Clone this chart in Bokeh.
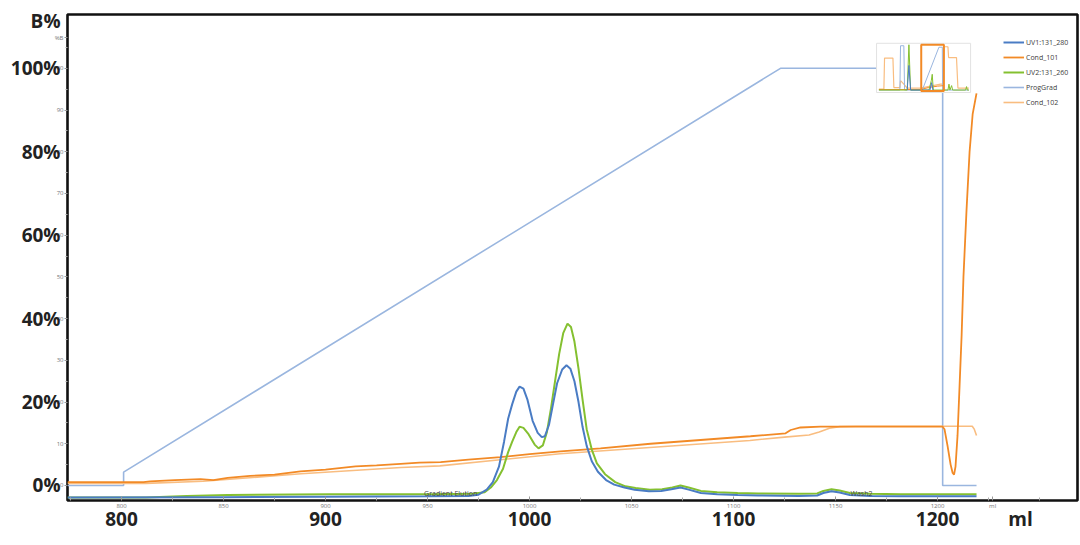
from bokeh.plotting import figure
from bokeh.models import Range1d, Legend, LegendItem, FixedTicker, LinearAxis
from bokeh.embed import file_html
from bokeh.resources import INLINE
from bokeh.core.properties import value

# ---------------- data ----------------
uv1_ml = [773.5, 850, 900, 950, 970, 975, 979, 982, 985, 987.5, 989.5, 991.5, 993.5, 995.1, 997, 999,
          1001.5, 1004, 1006, 1007.5, 1009.5, 1011.5, 1013.5, 1016, 1018.1, 1020, 1022, 1024, 1026, 1028,
          1030.5, 1033.5, 1037.5, 1041.5, 1046.5, 1051.5, 1058.5, 1064.5, 1069.5, 1074, 1078, 1084, 1092,
          1102, 1112, 1132, 1141, 1144, 1148, 1152, 1157, 1167, 1182, 1202, 1219.1]
uv1_val = [-2.9, -2.8, -2.7, -2.6, -2.5, -2.2, -1.0, 0.8, 4.5, 10.5, 16.0, 19.5, 22.5, 23.7, 23.2, 20.5,
           15.5, 12.6, 11.6, 11.8, 14.5, 19.5, 24.5, 27.8, 28.8, 28.0, 25.0, 20.0, 14.0, 9.5,
           5.8, 3.3, 1.3, 0.2, -0.5, -1.0, -1.4, -1.3, -0.9, -0.5, -1.0, -1.8, -2.1,
           -2.3, -2.4, -2.5, -2.4, -1.8, -1.4, -1.7, -2.3, -2.5, -2.6, -2.6, -2.6]

uv2_ml = [773.5, 812, 832, 852, 902, 952, 972, 978, 981, 984, 987, 989.5, 991.5, 993.5, 995.1, 997,
          999.5, 1002.5, 1004.4, 1006.5, 1008.5, 1010.5, 1012.5, 1014.5, 1016.5, 1018.6, 1020.3, 1022,
          1024, 1026, 1028, 1030.5, 1033, 1037, 1042, 1047, 1052, 1059, 1065, 1070, 1074, 1078, 1084,
          1092, 1102, 1112, 1132, 1141, 1144, 1148, 1152, 1157, 1167, 1182, 1202, 1219.1]
uv2_val = [-2.9, -2.9, -2.5, -2.3, -2.1, -2.1, -2.0, -1.6, -0.5, 1.3, 4.0, 8.0, 10.5, 12.8, 14.1, 13.8,
           12.3, 9.8, 8.9, 9.6, 12.8, 18.5, 25.0, 31.5, 36.5, 38.8, 38.0, 34.5,
           28.0, 20.5, 13.5, 8.6, 5.3, 2.7, 0.8, -0.2, -0.6, -1.0, -0.9, -0.5, 0.0, -0.5, -1.3,
           -1.6, -1.8, -1.9, -2.0, -1.9, -1.3, -0.9, -1.2, -1.8, -2.0, -2.1, -2.1, -2.1]

grad_ml = [773.5, 801, 801, 1123, 1202.5, 1202.5, 1219.1]
grad_val = [0, 0, 3.2, 100, 100, 0, 0]

cond101_ml = [773.5, 810.8, 814, 826, 838.7, 845, 852, 863, 875, 887.7, 900, 914.7, 925, 936.8, 946,
              956.4, 970, 985.8, 1000, 1015.2, 1034.8, 1059.3, 1083.8, 1108.3, 1125.5, 1128, 1132.8,
              1142.6, 1202.5, 1203.4, 1204.9, 1206.4, 1207.4, 1208.1, 1208.8, 1209.8, 1210.8, 1211.8,
              1212.7, 1214.2, 1215.7, 1217.2, 1219.1]
cond101_val = [0.8, 0.8, 1.0, 1.3, 1.5, 1.3, 1.8, 2.3, 2.6, 3.4, 3.8, 4.6, 4.8, 5.2, 5.5,
               5.6, 6.2, 6.8, 7.5, 8.2, 8.9, 10.0, 10.9, 11.8, 12.5, 13.3, 13.9,
               14.1, 14.1, 13.5, 9.5, 5.0, 3.0, 2.6, 4.5, 12.0, 24.0, 36.0,
               50.0, 66.0, 80.0, 89.0, 94.0]

cond102_ml = [773.5, 812, 840, 888, 937, 956, 1015, 1059, 1108, 1125, 1137, 1142, 1147, 1152, 1160,
              1217, 1218, 1219.1]
cond102_val = [0.5, 0.5, 1.0, 2.8, 4.3, 4.7, 7.6, 9.1, 10.8, 11.6, 12.1, 12.8, 13.7, 14.1, 14.2,
               14.2, 13.5, 12.0]

# small (original) tick labels
x_ticks = [800, 850, 900, 950, 1000, 1050, 1100, 1150, 1200, 1227]
x_tick_labels = ["800", "850", "900", "950", "1000", "1050", "1100", "1150", "1200", "ml"]
x_minor = [775, 825, 875, 925, 975, 1025, 1075, 1125, 1175, 1225, 1250]
y_ticks = [0, 10, 20, 30, 40, 50, 60, 70, 80, 90, 100, 107.3]
y_tick_labels = ["0", "10", "20", "30", "40", "50", "60", "70", "80", "90", "100", "%B"]
y_minor = [5, 15, 25, 35, 45, 55, 65, 75, 85, 95, 105]
# big overlay tick labels
big_y_ticks = [0, 20, 40, 60, 80, 100, 111.3]
big_y_labels = ["0%", "20%", "40%", "60%", "80%", "100%", "B%"]
big_x_ticks = [800, 900, 1000, 1100, 1200, 1240.7]
big_x_labels = ["800", "900", "1000", "1100", "1200", "ml"]

events_ml = [961.3, 1162.7]
events_val = [-1.9, -1.9]
events_txt = ["Gradient Elution", "Wash2"]

# overview thumbnail (normalised 0..1 within its little box)
ov_box = (1170.1, 1216.2, 94.2, 106.0)
ov_c102_u = [0.025, 0.078, 0.085, 0.174, 0.184, 0.248, 0.255, 0.29, 0.326, 0.468, 0.68, 0.709, 0.716, 0.759, 0.766, 0.85, 0.865, 0.982]
ov_c102_w = [0.07, 0.07, 0.7, 0.7, 0.1, 0.1, 0.24, 0.17, 0.09, 0.09, 0.17, 0.17, 0.93, 0.93, 0.71, 0.71, 0.09, 0.09]
ov_grad_u = [0.025, 0.248, 0.255, 0.29, 0.298, 0.486, 0.663, 0.699, 0.702, 0.982]
ov_grad_w = [0.05, 0.05, 0.95, 0.95, 0.05, 0.05, 0.92, 0.92, 0.05, 0.05]
ov_uv2_u = [0.025, 0.326, 0.344, 0.362, 0.557, 0.582, 0.592, 0.603, 0.759, 0.77, 0.78, 0.798, 0.809, 0.82, 0.947, 0.957, 0.965, 0.982]
ov_uv2_w = [0.05, 0.05, 0.97, 0.05, 0.05, 0.24, 0.37, 0.05, 0.05, 0.17, 0.05, 0.14, 0.05, 0.05, 0.05, 0.12, 0.05, 0.05]
ov_uv1_u = [0.326, 0.344, 0.362, 0.568, 0.585, 0.6]
ov_uv1_w = [0.05, 0.55, 0.05, 0.05, 0.2, 0.05]
ov_c101_u = [0.025, 0.47, 0.55, 0.65, 0.72]
ov_c101_w = [0.06, 0.06, 0.1, 0.13, 0.14]
ov_sel = (0.475, 0.716, 0.03, 0.97)

# ---------------- colours ----------------
C_UV1 = "#4a7cc4"
C_C101 = "#f28a26"
C_UV2 = "#84c030"
C_GRAD = "#9ab6df"
C_C102 = "#f9bd80"
FONT = "Open Sans"

p = figure(width=1080, height=545, output_backend="svg", toolbar_location=None,
           x_range=Range1d(773.5, 1268.6), y_range=Range1d(-3.6, 112.9),
           min_border_left=67, min_border_right=3, min_border_top=14, min_border_bottom=45,
           background_fill_color="white", border_fill_color="white")
p.grid.visible = False
p.outline_line_color = "#111111"
p.outline_line_width = 2.6

# inner axes (small original tick labels)
p.xaxis.ticker = FixedTicker(ticks=x_ticks, minor_ticks=x_minor)
p.xaxis.major_label_overrides = dict(zip(x_ticks, x_tick_labels))
p.yaxis.ticker = FixedTicker(ticks=y_ticks, minor_ticks=y_minor)
p.yaxis.major_label_overrides = dict(zip(y_ticks, y_tick_labels))
for ax in (p.xaxis[0], p.yaxis[0]):
    ax.axis_line_color = None
    ax.major_label_text_font_size = "6px"
    ax.major_label_text_color = "#777777"
    ax.major_label_text_font = FONT
    ax.major_tick_line_color = "#999999"
    ax.minor_tick_line_color = "#aaaaaa"
    ax.major_label_standoff = 1
p.xaxis.major_tick_in = 4
p.xaxis.major_tick_out = 0
p.xaxis.minor_tick_in = 3
p.xaxis.minor_tick_out = 0
p.yaxis.major_tick_in = 0
p.yaxis.major_tick_out = 3
p.yaxis.minor_tick_in = 0
p.yaxis.minor_tick_out = 2

# outer axes (big overlay labels)
big_y = LinearAxis(ticker=FixedTicker(ticks=big_y_ticks, minor_ticks=[]),
                   major_label_overrides=dict(zip(big_y_ticks, big_y_labels)))
big_x = LinearAxis(ticker=FixedTicker(ticks=big_x_ticks, minor_ticks=[]),
                   major_label_overrides=dict(zip(big_x_ticks, big_x_labels)))
for ax in (big_y, big_x):
    ax.axis_line_color = None
    ax.major_tick_line_color = None
    ax.minor_tick_line_color = None
    ax.major_tick_out = 0
    ax.major_tick_in = 0
    ax.major_label_text_font = FONT
    ax.major_label_text_font_size = "19px"
    ax.major_label_text_font_style = "bold"
    ax.major_label_text_color = "#222222"
big_y.major_label_standoff = -10
big_x.major_label_standoff = -7
p.add_layout(big_y, "left")
p.add_layout(big_x, "below")

# curves
r_grad = p.line(grad_ml, grad_val, line_color=C_GRAD, line_width=1.6)
r_c102 = p.line(cond102_ml, cond102_val, line_color=C_C102, line_width=1.6)
r_c101 = p.line(cond101_ml, cond101_val, line_color=C_C101, line_width=1.8)
r_uv2 = p.line(uv2_ml, uv2_val, line_color=C_UV2, line_width=2.0)
r_uv1 = p.line(uv1_ml, uv1_val, line_color=C_UV1, line_width=2.0)

p.text(x=events_ml, y=events_val, text=events_txt, text_font=value(FONT), text_font_size="7px",
       text_color="#444444", text_align="center", text_baseline="middle")

# overview thumbnail
x0, x1, y0, y1 = ov_box
def mx(u):
    return [x0 + (x1 - x0) * t for t in u]
def my(w):
    return [y0 + (y1 - y0) * t for t in w]
p.quad(left=[x0], right=[x1], bottom=[y0], top=[y1], fill_color="white", line_color="#e2e2e2", line_width=1)
p.line(mx(ov_c102_u), my(ov_c102_w), line_color=C_C102, line_width=1.2)
p.line(mx(ov_grad_u), my(ov_grad_w), line_color=C_GRAD, line_width=1)
p.line(mx(ov_c101_u), my(ov_c101_w), line_color=C_C101, line_width=1)
p.line(mx(ov_uv2_u), my(ov_uv2_w), line_color=C_UV2, line_width=1)
p.line(mx(ov_uv1_u), my(ov_uv1_w), line_color=C_UV1, line_width=1)
su0, su1, sw0, sw1 = ov_sel
p.quad(left=mx([su0]), right=mx([su1]), bottom=my([sw0]), top=my([sw1]), fill_alpha=0,
       line_color=C_C101, line_width=2)

# legend
legend = Legend(items=[LegendItem(label="UV1:131_280", renderers=[r_uv1]),
                       LegendItem(label="Cond_101", renderers=[r_c101]),
                       LegendItem(label="UV2:131_260", renderers=[r_uv2]),
                       LegendItem(label="ProgGrad", renderers=[r_grad]),
                       LegendItem(label="Cond_102", renderers=[r_c102])],
                location=(936, 393))
legend.label_text_font_size = "7px"
legend.label_text_font = FONT
legend.label_text_color = "#404040"
legend.glyph_width = 21
legend.glyph_height = 10
legend.label_height = 10
legend.spacing = 5
legend.padding = 0
legend.margin = 0
legend.label_standoff = 2
legend.background_fill_alpha = 0
legend.border_line_alpha = 0
p.add_layout(legend)

open("out.html", "w").write(file_html(p, INLINE))
